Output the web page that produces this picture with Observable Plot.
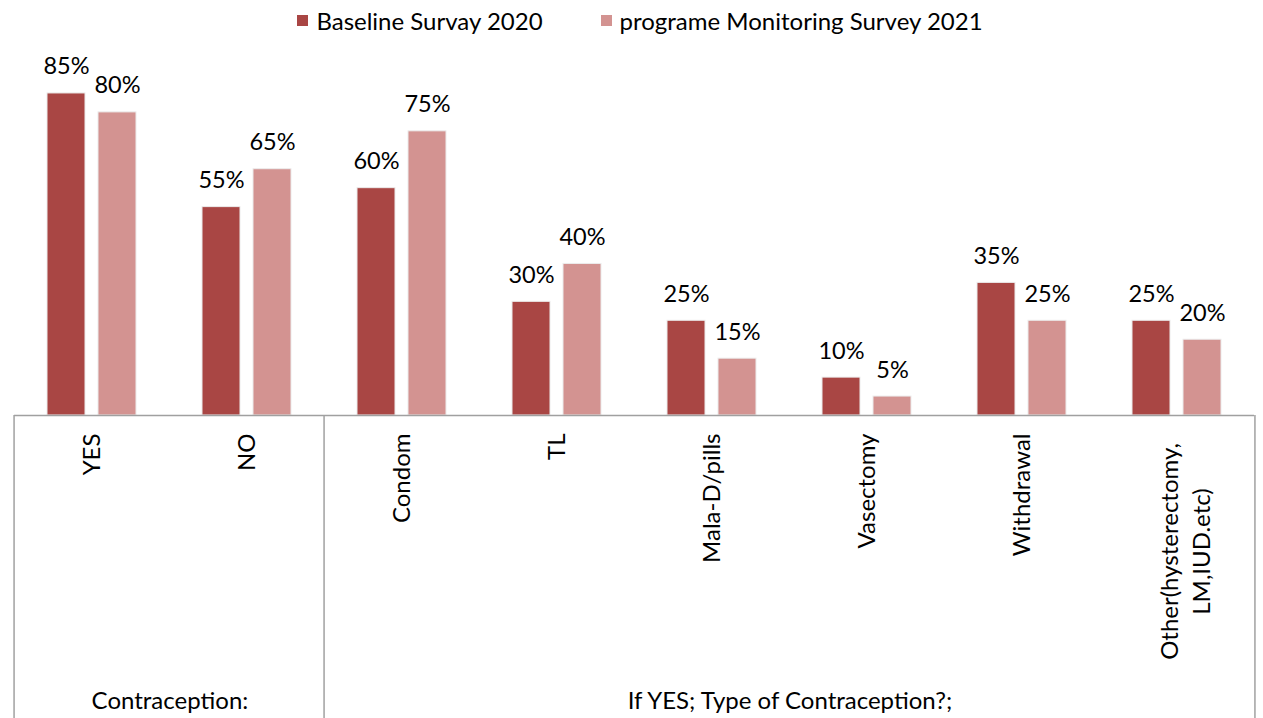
<!DOCTYPE html>
<html><head><meta charset="utf-8">
<script src="https://cdn.jsdelivr.net/npm/d3@7"></script>
<script src="https://cdn.jsdelivr.net/npm/@observablehq/plot@0.6"></script>
<style>
body{margin:0;background:#fff;font-family:Lato,"Open Sans",sans-serif;}
#legend{height:40px;display:flex;justify-content:center;align-items:center;gap:58px;font-size:24px;color:#000;padding-left:17px;box-sizing:border-box;width:1263px}
.item{display:flex;align-items:center;gap:8px}
.sw{width:11px;height:11px;display:inline-block}
</style></head><body><div id="legend"></div><div id="chart"></div>
<script>
const categories = ["YES","NO","Condom","TL","Mala-D/pills","Vasectomy","Withdrawal","Other(hysterectomy,\nLM,IUD.etc)"];
const baseline = [85,55,60,30,25,10,35,25];
const monitoring = [80,65,75,40,15,5,25,20];
const seriesNames = ["Baseline Survay 2020","programe Monitoring Survey 2021"];
const seriesColors = ["#A94644","#D39391"];
const groupNames = ["Contraception:","If YES; Type of Contraception?;"];
const groupSizes = [2,6];

const data = categories.flatMap((c,i)=>[
  {cat:c, series:seriesNames[0], value:baseline[i]},
  {cat:c, series:seriesNames[1], value:monitoring[i]}
]);
const groups = [];
{ let k = 0;
  groupNames.forEach((g,j)=>{
    groups.push({name:g, first:categories[k], last:categories[k+groupSizes[j]-1], mid:categories[k+groupSizes[j]/2-1]});
    k += groupSizes[j];
  });
}

const legend = document.getElementById("legend");
seriesNames.forEach((s,i)=>{
  const it = document.createElement("div"); it.className="item";
  const sw = document.createElement("span"); sw.className="sw"; sw.style.background=seriesColors[i];
  const t = document.createElement("span"); t.textContent=s;
  it.append(sw,t); legend.append(it);
});

const W=1263, H=678, mL=10, mR=6, mT=34, mB=303;
const bw = (W-mL-mR)/categories.length;
const lineColor = "#a0a0a0";

const chart = Plot.plot({
  width:W, height:H, marginLeft:mL, marginRight:mR, marginTop:mT, marginBottom:mB,
  style:{fontFamily:"Lato, 'Open Sans', sans-serif", background:"white", overflow:"visible"},
  fx:{domain:categories, padding:0, axis:null},
  x:{domain:seriesNames, paddingInner:0.25, paddingOuter:0.625, axis:null},
  y:{domain:[0,90], axis:null},
  color:{domain:seriesNames, range:seriesColors},
  marks:[
    Plot.barY(data,{fx:"cat", x:"series", y:"value", fill:"series", stroke:"#ececec", strokeWidth:1}),
    Plot.ruleY([0],{stroke:lineColor, strokeWidth:1.5}),
    Plot.text(data,{fx:"cat", x:"series", y:"value", text:d=>d.value+"%", lineAnchor:"bottom", dy:-19, fontSize:23.5, fill:"#000"}),
    Plot.text(categories.filter(c=>!c.includes("\n")),{fx:d=>d, frameAnchor:"bottom", text:d=>d, rotate:-90, textAnchor:"end", lineAnchor:"middle", dy:18, fontSize:24, fill:"#000"}),
    Plot.text(categories.filter(c=>c.includes("\n")),{fx:d=>d, frameAnchor:"bottom", text:d=>d, rotate:-90, textAnchor:"middle", lineAnchor:"middle", lineHeight:1.3, dy:136, dx:7, fontSize:24, fill:"#000"}),
    Plot.ruleX(groups,{fx:"first", x:null, y1:0, y2:-80, dx:-bw/2, stroke:lineColor, strokeWidth:1.5}),
    Plot.ruleX(groups.slice(-1),{fx:"last", x:null, y1:0, y2:-80, dx:bw/2, stroke:lineColor, strokeWidth:1.5}),
    Plot.text(groups,{fx:"mid", frameAnchor:"bottom", text:"name", dx:bw/2, dy:293, lineAnchor:"bottom", fontSize:24, fill:"#000"})
  ]
});
document.getElementById("chart").append(chart);
</script>
</body></html>
